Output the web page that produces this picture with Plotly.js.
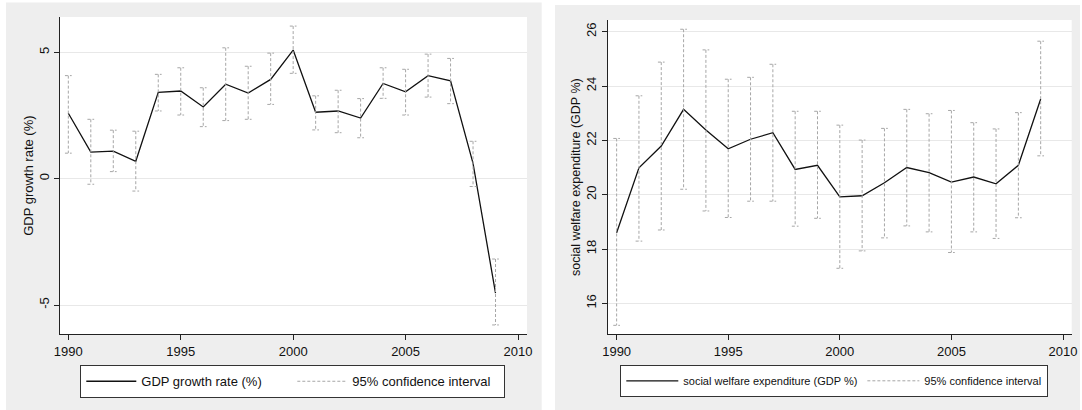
<!DOCTYPE html>
<html>
<head>
<meta charset="utf-8">
<script src="https://cdn.plot.ly/plotly-3.0.1.min.js"></script>
<style>
html,body{margin:0;padding:0;background:#ffffff;}
#chart{width:1082px;height:410px;}
</style>
</head>
<body>
<div id="chart"></div>
<script>
// ---- data ----
const years = [1990,1991,1992,1993,1994,1995,1996,1997,1998,1999,2000,2001,2002,2003,2004,2005,2006,2007,2008,2009];

const gdpGrowth = [2.59,1.05,1.09,0.69,3.42,3.47,2.84,3.74,3.39,3.93,5.09,2.63,2.68,2.40,3.77,3.44,4.08,3.87,0.61,-4.53];
const gdpUpper  = [4.08,2.35,1.92,1.88,4.13,4.39,3.60,5.18,4.45,4.97,6.04,3.28,3.50,3.17,4.39,4.33,4.93,4.76,1.48,-3.18];
const gdpLower  = [1.01,-0.22,0.28,-0.49,2.68,2.52,2.06,2.30,2.35,2.94,4.17,1.93,1.82,1.62,3.18,2.52,3.23,2.97,-0.31,-5.79];

const welfare      = [18.60,20.99,21.79,23.14,22.38,21.69,22.04,22.28,20.93,21.08,19.92,19.96,20.44,21.00,20.81,20.46,20.65,20.40,21.08,23.52];
const welfareUpper = [22.07,23.64,24.88,26.09,25.33,24.25,24.32,24.80,23.07,23.07,22.56,22.01,22.44,23.14,22.98,23.10,22.65,22.42,23.02,25.65];
const welfareLower = [15.19,18.29,18.70,20.20,19.40,19.16,19.76,19.76,18.84,19.13,17.29,17.93,18.41,18.85,18.63,17.87,18.63,18.39,19.15,21.43];

const xTicks = [1990,1995,2000,2005,2010];
const gdpTicks = [-5,0,5];
const welfareTicks = [16,18,20,22,24,26];

const labels = {
  gdp: "GDP growth rate (%)",
  welfare: "social welfare expenditure (GDP %)",
  ci: "95% confidence interval"
};

// ---- helpers: range-cap paths built from the data ----
const CAP = 0.15; // half cap width in years (style)
function capPath(xs, lo, hi){
  const px = [], py = [];
  xs.forEach((x,i) => {
    px.push(x-CAP, x+CAP, null, x, x, null, x-CAP, x+CAP, null);
    py.push(hi[i], hi[i], null, hi[i], lo[i], null, lo[i], lo[i], null);
  });
  return {x: px, y: py};
}

const FONT = "Liberation Sans, Arial, Helvetica, sans-serif";
const CI_COLOR = "#a6a6a6";
const LINE_COLOR = "#111111";
const BG = "#eeeeee";
const GRID = "#e8e8e8";

const ci1 = capPath(years, gdpLower, gdpUpper);
const ci2 = capPath(years, welfareLower, welfareUpper);

const traces = [
  {x: years, y: gdpGrowth, type: "scatter", mode: "lines", name: labels.gdp,
   line: {color: LINE_COLOR, width: 1.3}, xaxis: "x", yaxis: "y", legend: "legend", hoverinfo: "x+y"},
  {x: ci1.x, y: ci1.y, type: "scatter", mode: "lines", name: labels.ci, connectgaps: false,
   line: {color: CI_COLOR, width: 1, dash: "3px,2px"}, xaxis: "x", yaxis: "y", legend: "legend", hoverinfo: "skip"},
  {x: years, y: welfare, type: "scatter", mode: "lines", name: labels.welfare,
   line: {color: LINE_COLOR, width: 1.3}, xaxis: "x2", yaxis: "y2", legend: "legend2", hoverinfo: "x+y"},
  {x: ci2.x, y: ci2.y, type: "scatter", mode: "lines", name: labels.ci, connectgaps: false,
   line: {color: CI_COLOR, width: 1, dash: "3px,2px"}, xaxis: "x2", yaxis: "y2", legend: "legend2", hoverinfo: "skip"}
];

const W = 1082, H = 410;
const px = v => v / W;
const py = v => 1 - v / H;

function xAxis(domain, range){
  return {
    domain: domain, range: range, tickvals: xTicks, ticktext: xTicks.map(String),
    showgrid: false, zeroline: false, showline: true, linecolor: "#222", linewidth: 1.3,
    ticks: "outside", ticklen: 5, tickwidth: 1, tickcolor: "#222",
    tickfont: {family: FONT, size: 13, color: "#111"}, fixedrange: true, automargin: false
  };
}
function yAxis(domain, range, ticks, title, anchor, tsize){
  return {
    domain: domain, range: range, tickvals: ticks, ticktext: ticks.map(String), tickangle: -90,
    showgrid: true, gridcolor: GRID, gridwidth: 1, zeroline: false,
    showline: true, linecolor: "#222", linewidth: 1.3,
    ticks: "outside", ticklen: 5, tickwidth: 1, tickcolor: "#222",
    tickfont: {family: FONT, size: 13, color: "#111"},
    title: {text: title, font: {family: FONT, size: tsize, color: "#111"}, standoff: 0},
    automargin: false, fixedrange: true, anchor: anchor
  };
}

const layout = {
  width: W, height: H,
  margin: {l: 0, r: 0, t: 0, b: 0, autoexpand: false},
  paper_bgcolor: "#ffffff",
  plot_bgcolor: "rgba(0,0,0,0)",
  font: {family: FONT, color: "#111"},
  showlegend: true,
  xaxis: Object.assign(xAxis([px(60), px(527)], [1989.63, 2010.4]), {anchor: "y"}),
  yaxis: yAxis([py(334.3), py(17)], [-6.16, 6.4], gdpTicks, labels.gdp, "x", 13),
  xaxis2: Object.assign(xAxis([px(607.7), px(1071.7)], [1989.6, 2010.39]), {anchor: "y2"}),
  yaxis2: yAxis([py(334.3), py(20)], [14.86, 26.43], welfareTicks, labels.welfare, "x2", 12.5),
  legend: {
    orientation: "h", x: px(80), y: py(365), xanchor: "left", yanchor: "top",
    bgcolor: "#ffffff", bordercolor: "#333", borderwidth: 1.3,
    font: {family: FONT, size: 13, color: "#111"},
    itemwidth: 50, entrywidth: 146, traceorder: "normal"
  },
  legend2: {
    orientation: "h", x: px(620), y: py(365), xanchor: "left", yanchor: "top",
    bgcolor: "#ffffff", bordercolor: "#333", borderwidth: 1.3,
    font: {family: FONT, size: 11, color: "#111"},
    itemwidth: 52, traceorder: "normal"
  },
  shapes: [
    {type: "rect", xref: "paper", yref: "paper", x0: px(6), x1: px(541.7), y0: 0, y1: py(2.5),
     fillcolor: BG, line: {width: 0}, layer: "below"},
    {type: "rect", xref: "paper", yref: "paper", x0: px(555), x1: px(1080), y0: 0, y1: py(5),
     fillcolor: BG, line: {width: 0}, layer: "below"},
    {type: "rect", xref: "x domain", yref: "y domain", x0: 0, x1: 1, y0: 0, y1: 1,
     fillcolor: "#ffffff", line: {width: 0}, layer: "below"},
    {type: "rect", xref: "x2 domain", yref: "y2 domain", x0: 0, x1: 1, y0: 0, y1: 1,
     fillcolor: "#ffffff", line: {width: 0}, layer: "below"}
  ]
};

Plotly.newPlot("chart", traces, layout, {displayModeBar: false, staticPlot: false});
</script>
</body>
</html>
